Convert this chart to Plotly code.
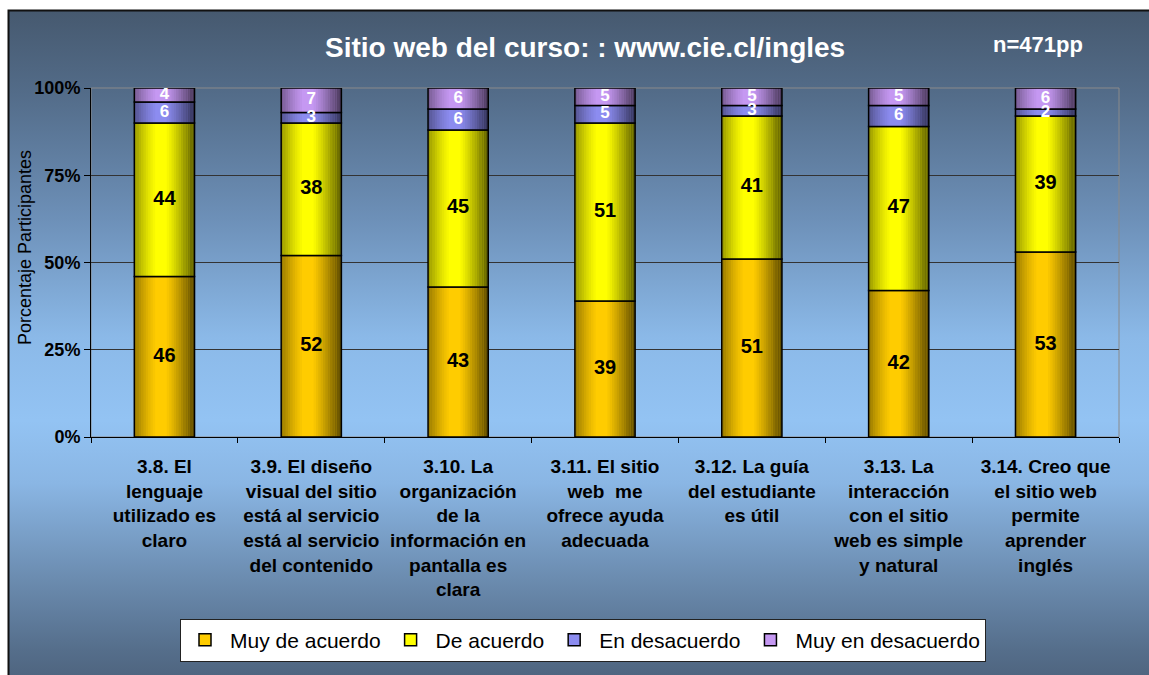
import base64
import numpy as np
import plotly.graph_objects as go

# ---------------- data ----------------
categories = [
    "3.8. El<br>lenguaje<br>utilizado es<br>claro",
    "3.9. El diseño<br>visual del sitio<br>está al servicio<br>está al servicio<br>del contenido",
    "3.10. La<br>organización<br>de la<br>información en<br>pantalla es<br>clara",
    "3.11. El sitio<br>web  me<br>ofrece ayuda<br>adecuada",
    "3.12. La guía<br>del estudiante<br>es útil",
    "3.13. La<br>interacción<br>con el sitio<br>web es simple<br>y natural",
    "3.14. Creo que<br>el sitio web<br>permite<br>aprender<br>inglés",
]
muy_de_acuerdo = [46, 52, 43, 39, 51, 42, 53]
de_acuerdo = [44, 38, 45, 51, 41, 47, 39]
en_desacuerdo = [6, 3, 6, 5, 3, 6, 2]
muy_en_desacuerdo = [4, 7, 6, 5, 5, 5, 6]
series_names = ["Muy de acuerdo", "De acuerdo", "En desacuerdo", "Muy en desacuerdo"]
y_tick_vals = [0, 25, 50, 75, 100]
y_tick_labels = ["0%", "25%", "50%", "75%", "100%"]
title_text = "Sitio web del curso: : www.cie.cl/ingles"
n_text = "n=471pp"
y_title = "Porcentaje Participantes"

# ---------------- style ----------------
series = [muy_de_acuerdo, de_acuerdo, en_desacuerdo, muy_en_desacuerdo]
colors = ["#FFCC00", "#FFFF00", "#8C8CF0", "#C598F2"]
text_colors = ["black", "black", "white", "white"]
text_sizes = [20, 20, 17, 17]
FONT = "Arial, Liberation Sans, Helvetica, sans-serif"
W, H = 1149, 675
ML, MR, MT, MB = 91, 30, 88, 238
BAR_W = 0.41

fig = go.Figure()

data = np.array(series, dtype=float)
bases = np.vstack([np.zeros(data.shape[1]), np.cumsum(data, axis=0)[:-1]])
totals = data.sum(axis=0)

for k, (name, vals, base, col) in enumerate(zip(series_names, data, bases, colors)):
    fig.add_trace(go.Bar(
        x=categories, y=vals, base=base, name=name, width=BAR_W,
        legendgroup=f"g{k}",
        marker=dict(color=col, line=dict(color="black", width=1.5)),
        hoverinfo="skip",
    ))

# cylinder-like shading strips over each column
N = 26
for i in range(N):
    t = (i + 0.5) / N
    if t < 0.38:
        a = 0.42 * ((0.38 - t) / 0.38) ** 1.4
    elif t > 0.52:
        a = 0.65 * ((t - 0.52) / 0.48) ** 1.2
    else:
        a = 0.0
    if a <= 0.005:
        continue
    fig.add_trace(go.Bar(
        x=categories, y=totals, base=np.zeros_like(totals),
        width=BAR_W / N, offset=-BAR_W / 2 + i * BAR_W / N,
        marker=dict(color=f"rgba(0,0,0,{a:.3f})", line=dict(width=0)),
        showlegend=False, hoverinfo="skip",
    ))

# value labels
for vals, base, tc, ts in zip(data, bases, text_colors, text_sizes):
    fig.add_trace(go.Scatter(
        x=categories, y=base + vals / 2, mode="text",
        text=[f"{v:.0f}" for v in vals], textposition="middle center",
        textfont=dict(family=FONT, size=ts, color=tc, weight="bold"),
        showlegend=False, hoverinfo="skip",
    ))

# background gradient (paper) as an inline SVG image
svg = f"""<svg xmlns='http://www.w3.org/2000/svg' width='{W}' height='{H}' viewBox='0 0 {W} {H}'>
<defs><linearGradient id='g' x1='0' y1='0' x2='0' y2='1'>
<stop offset='0' stop-color='#46596f'/>
<stop offset='0.12' stop-color='#536c89'/>
<stop offset='0.30' stop-color='#6d90b8'/>
<stop offset='0.47' stop-color='#8bb9e8'/>
<stop offset='0.59' stop-color='#93c3f3'/>
<stop offset='0.68' stop-color='#8ab6e4'/>
<stop offset='0.80' stop-color='#6f91b6'/>
<stop offset='0.92' stop-color='#556e8b'/>
<stop offset='1' stop-color='#485b73'/>
</linearGradient></defs>
<rect x='0' y='0' width='{W}' height='{H}' fill='white'/>
<rect x='8.5' y='10.5' width='{W + 20}' height='{H + 20}' fill='url(#g)' stroke='#111' stroke-width='2'/>
</svg>"""
src = "data:image/svg+xml;base64," + base64.b64encode(svg.encode()).decode()
pw, ph = W - ML - MR, H - MT - MB
fig.add_layout_image(dict(
    source=src, xref="paper", yref="paper",
    x=-ML / pw, y=1 + MT / ph, sizex=W / pw, sizey=H / ph,
    xanchor="left", yanchor="top", sizing="stretch", layer="below",
))

# plot frame (gray top/right)
fig.add_shape(type="rect", xref="paper", yref="paper", x0=0, y0=0, x1=1, y1=1,
              line=dict(color="#8a8a8a", width=1), layer="below")

fig.update_layout(
    width=W, height=H,
    margin=dict(l=ML, r=MR, t=MT, b=MB, autoexpand=False),
    barmode="overlay",
    paper_bgcolor="white",
    plot_bgcolor="#e8f0f8",
    font=dict(family=FONT, color="black"),
    showlegend=True,
    legend=dict(
        orientation="h", x=(583 - ML) / pw, xanchor="center", y=-(640 - MT - ph) / ph, yanchor="middle",
        bgcolor="white", bordercolor="#222", borderwidth=1,
        font=dict(family=FONT, size=21, color="black"),
        traceorder="grouped", tracegroupgap=68, itemwidth=40,
    ),
    xaxis=dict(
        type="category", showgrid=False, showline=True, linecolor="black", linewidth=1,
        ticks="outside", tickson="boundaries", ticklen=5, tickcolor="black",
        tickfont=dict(family=FONT, size=19, color="black", weight="bold"),
        ticklabelstandoff=12, fixedrange=True,
    ),
    yaxis=dict(
        range=[0, 100], tickvals=y_tick_vals, ticktext=y_tick_labels,
        showgrid=True, gridcolor="#333333", gridwidth=1,
        showline=True, linecolor="black", linewidth=1,
        ticks="outside", ticklen=6, tickcolor="black",
        tickfont=dict(family=FONT, size=18, color="black", weight="bold"),
        zeroline=False, fixedrange=True,
    ),
    annotations=[
        dict(text=title_text, xref="paper", yref="paper", x=(585 - ML) / pw, y=1 + (MT - 47) / ph,
             xanchor="center", yanchor="middle", showarrow=False,
             font=dict(family=FONT, size=28, color="white", weight="bold")),
        dict(text=n_text, xref="paper", yref="paper", x=(1038 - ML) / pw, y=1 + (MT - 44) / ph,
             xanchor="center", yanchor="middle", showarrow=False,
             font=dict(family=FONT, size=22, color="white", weight="bold")),
        dict(text=y_title, xref="paper", yref="paper", x=(25 - ML) / pw, y=(MT + ph - 248) / ph,
             xanchor="center", yanchor="middle", showarrow=False, textangle=-90,
             font=dict(family=FONT, size=18, color="black")),
    ],
)

fig.write_html("out.html", config={"displayModeBar": False},
               post_script="document.body.style.margin='0px';")
